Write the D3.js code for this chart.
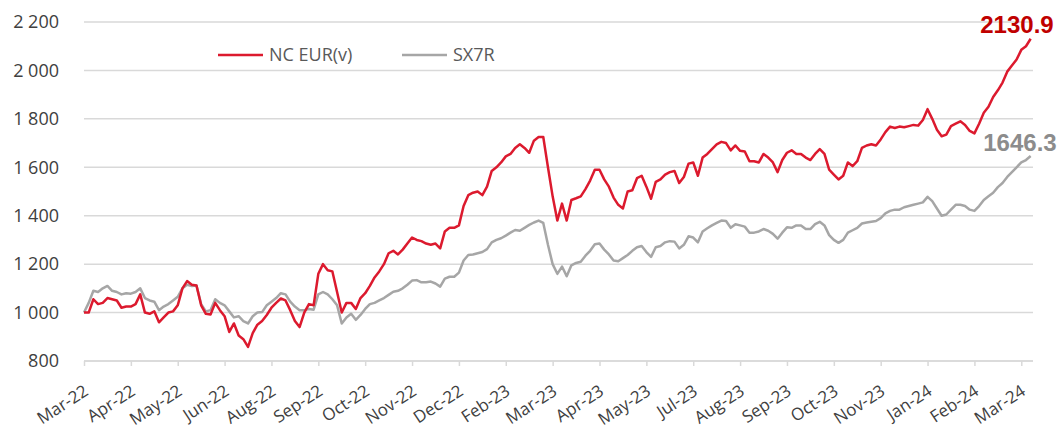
<!DOCTYPE html>
<html>
<head>
<meta charset="utf-8">
<script src="https://cdn.jsdelivr.net/npm/d3@7"></script>
<style>
  html, body { margin: 0; padding: 0; background: #ffffff; }
  svg { display: block; }
</style>
</head>
<body>
<div id="chart"></div>
<script>
// ---- DATA ----
const xTickLabels = ["Mar-22","Apr-22","May-22","Jun-22","Aug-22","Sep-22","Oct-22","Nov-22","Dec-22","Feb-23","Mar-23","Apr-23","May-23","Jul-23","Aug-23","Sep-23","Oct-23","Nov-23","Jan-24","Feb-24","Mar-24"];
const yTickValues = [800, 1000, 1200, 1400, 1600, 1800, 2000, 2200];
const seriesNames = ["NC EUR(v)", "SX7R"];
const ncEur = [
1000,1000,1055,1035,1040,1060,1055,1050,1020,1025,
1025,1035,1075,1000,995,1005,960,980,1000,1005,
1030,1100,1130,1115,1112,1030,995,992,1040,1010,
985,920,955,905,890,858,915,950,965,990,
1020,1040,1058,1050,1010,965,940,1000,1035,1030,
1160,1200,1175,1170,1085,1000,1040,1040,1015,1060,
1080,1110,1145,1170,1200,1245,1255,1240,1260,1285,
1310,1300,1295,1285,1280,1285,1265,1335,1350,1350,
1360,1440,1485,1495,1500,1485,1520,1585,1600,1620,
1645,1655,1680,1695,1680,1660,1710,1725,1725,1600,
1480,1380,1450,1380,1465,1472,1480,1510,1545,1590,
1590,1550,1520,1475,1445,1430,1500,1505,1555,1565,
1520,1470,1540,1550,1570,1580,1585,1535,1560,1615,
1620,1565,1640,1655,1675,1695,1705,1700,1670,1690,
1668,1665,1625,1625,1620,1655,1640,1620,1580,1630,
1660,1670,1655,1655,1640,1630,1655,1675,1655,1590,
1570,1550,1565,1620,1605,1625,1680,1690,1695,1690,
1715,1745,1768,1762,1768,1765,1770,1775,1772,1795,
1840,1800,1755,1728,1735,1770,1780,1790,1775,1750,
1740,1780,1825,1850,1890,1918,1950,1995,2020,2045,
2085,2100,2130.9
];
const sx7r = [
1000,1040,1090,1085,1100,1110,1090,1085,1075,1080,
1078,1085,1100,1060,1050,1045,1010,1025,1035,1050,
1065,1100,1115,1110,1112,1035,1005,1010,1055,1040,
1030,1005,980,985,965,955,985,1000,1002,1030,
1045,1060,1080,1075,1045,1025,1010,1010,1015,1012,
1075,1085,1075,1055,1030,955,980,995,970,990,
1015,1035,1040,1050,1060,1073,1086,1090,1100,1115,
1132,1134,1125,1125,1128,1120,1107,1140,1148,1148,
1165,1215,1238,1240,1245,1250,1262,1290,1300,1307,
1318,1330,1341,1338,1350,1362,1372,1380,1370,1280,
1200,1160,1190,1150,1195,1205,1210,1235,1255,1282,
1285,1260,1240,1215,1212,1225,1238,1255,1270,1275,
1250,1230,1270,1275,1290,1295,1293,1265,1280,1315,
1310,1290,1335,1348,1360,1370,1380,1378,1350,1365,
1360,1355,1330,1330,1335,1345,1338,1325,1305,1330,
1352,1350,1360,1360,1345,1345,1365,1375,1360,1320,
1300,1288,1300,1330,1340,1350,1368,1372,1375,1378,
1390,1410,1420,1425,1425,1435,1440,1445,1450,1455,
1478,1460,1430,1400,1405,1425,1445,1445,1440,1425,
1420,1440,1465,1480,1495,1518,1535,1560,1580,1600,
1620,1630,1646.3
];
const ticksEvery = 10; // samples between labelled ticks

// ---- LAYOUT ----
const W = 1060, H = 430;
const mLeft = 84, mRight = 1033, mTop = 22, mBottom = 361;
const red = "#DC1A2E", gray = "#A6A6A6", gridColor = "#D9D9D9", textColor = "#404040";
const font = "'Open Sans', 'Liberation Sans', sans-serif";

const svg = d3.select("#chart").append("svg").attr("width", W).attr("height", H)
  .style("background", "#fff");

const x = d3.scaleLinear().domain([0, ncEur.length - 0.5]).range([mLeft, mRight]);
const y = d3.scaleLinear().domain([800, 2200]).range([mBottom, mTop]);

const fmt = d3.formatLocale({ decimal: ".", thousands: " ", grouping: [3], currency: ["", ""] }).format(",d");

// gridlines
svg.append("g").selectAll("line").data(yTickValues).join("line")
  .attr("x1", mLeft).attr("x2", mRight)
  .attr("y1", d => y(d)).attr("y2", d => y(d))
  .attr("stroke", gridColor).attr("stroke-width", 1.5);

// y labels
const yAxis = d3.axisLeft(y).tickValues(yTickValues).tickFormat(fmt).tickSize(0).tickPadding(0);
const yg = svg.append("g").attr("transform", `translate(${mLeft - 25},0)`).call(yAxis);
yg.select(".domain").remove();
yg.selectAll("text").attr("fill", textColor).style("font-family", font).style("font-size", "18px");

// x axis
const tickIdx = xTickLabels.map((_, i) => i * ticksEvery);
const xAxis = d3.axisBottom(x).tickValues(tickIdx).tickFormat((d, i) => xTickLabels[i]).tickSize(5).tickSizeOuter(0);
const xg = svg.append("g").attr("transform", `translate(0,${mBottom})`).call(xAxis);
xg.select(".domain").attr("stroke", gridColor).attr("stroke-width", 1.5).attr("d", `M${mLeft},0H${mRight}`);
xg.selectAll(".tick line").attr("stroke", gridColor).attr("stroke-width", 1.5);
xg.selectAll(".tick text")
  .attr("fill", textColor).style("font-family", font).style("font-size", "17px")
  .attr("text-anchor", "end").attr("x", 0).attr("y", 0).attr("dy", 0)
  .attr("transform", "translate(5,33) rotate(-33)");

// lines
const line = d3.line().x((d, i) => x(i)).y(d => y(d));
svg.append("path").datum(sx7r).attr("d", line).attr("fill", "none")
  .attr("stroke", gray).attr("stroke-width", 2.5).attr("stroke-linejoin", "round");
svg.append("path").datum(ncEur).attr("d", line).attr("fill", "none")
  .attr("stroke", red).attr("stroke-width", 2.5).attr("stroke-linejoin", "round");

// end labels
const lastR = ncEur.length - 1, lastG = sx7r.length - 1;
svg.append("text").attr("x", x(lastR) + 23).attr("y", y(ncEur[lastR]) - 6)
  .attr("text-anchor", "end").attr("fill", "#C00000")
  .style("font-family", "'Liberation Sans', Arial, sans-serif").style("font-weight", "bold").style("font-size", "24px")
  .text(ncEur[lastR].toFixed(1));
svg.append("text").attr("x", x(lastG) + 26).attr("y", y(sx7r[lastG]) - 5)
  .attr("text-anchor", "end").attr("fill", "#8C8C8C")
  .style("font-family", "'Liberation Sans', Arial, sans-serif").style("font-weight", "bold").style("font-size", "24px")
  .text(sx7r[lastG].toFixed(1));

// legend
const legend = [
  { name: seriesNames[0], color: red, x0: 218 },
  { name: seriesNames[1], color: gray, x0: 402 }
];
const lg = svg.append("g");
legend.forEach(l => {
  lg.append("line").attr("x1", l.x0).attr("x2", l.x0 + 45).attr("y1", 55).attr("y2", 55)
    .attr("stroke", l.color).attr("stroke-width", 2.5);
  lg.append("text").attr("x", l.x0 + 51).attr("y", 55).attr("dy", "0.35em")
    .attr("fill", "#595959").style("font-family", font).style("font-size", "18px").text(l.name);
});
</script>
</body>
</html>
